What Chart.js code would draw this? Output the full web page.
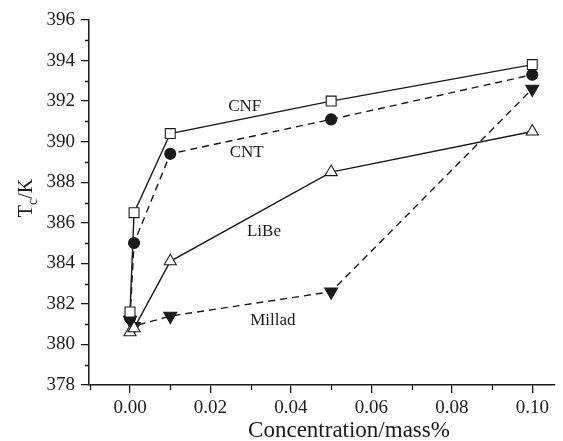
<!DOCTYPE html>
<html>
<head>
<meta charset="utf-8">
<script src="https://cdn.jsdelivr.net/npm/chart.js@4.4.0/dist/chart.umd.min.js"></script>
<style>
  html, body { margin: 0; padding: 0; background: #fff; }
  #wrap { width: 563px; height: 441px; }
</style>
</head>
<body>
<div id="wrap"><canvas id="tc-chart"></canvas></div>
<script>
  const concentrations = [0, 0.001, 0.01, 0.05, 0.1];
  const cnf = [381.6, 386.5, 390.4, 392.0, 393.8];
  const cnt = [381.3, 385.0, 389.4, 391.1, 393.3];
  const libe = [380.6, 380.8, 384.1, 388.5, 390.5];
  const millad = [381.2, 380.9, 381.4, 382.6, 392.6];

  const xTicks = [0, 0.02, 0.04, 0.06, 0.08, 0.10];
  const yTicks = [378, 380, 382, 384, 386, 388, 390, 392, 394, 396];

  const ink = '#1a1a1a';
  const serif = '"Liberation Serif", "DejaVu Serif", serif';

  function pts(ys) {
    return concentrations.map((x, i) => ({ x: x, y: ys[i] }));
  }

  // small outside ticks between the labelled ones, series names, axis titles
  const extras = {
    id: 'extras',
    afterDraw(chart) {
      const ctx = chart.ctx;
      const xs = chart.scales.x, ys = chart.scales.y;
      const area = chart.chartArea;
      ctx.save();
      ctx.strokeStyle = ink;
      ctx.lineWidth = 1.3;
      ctx.beginPath();
      for (let v = 379; v < 396; v += 2) {
        const py = Math.round(ys.getPixelForValue(v)) + 0.5;
        ctx.moveTo(area.left - 4, py);
        ctx.lineTo(area.left, py);
      }
      for (let v = -0.01; v < 0.105; v += 0.02) {
        const px = Math.round(xs.getPixelForValue(v)) + 0.5;
        ctx.moveTo(px, area.bottom);
        ctx.lineTo(px, area.bottom + 5);
      }
      ctx.stroke();

      ctx.fillStyle = ink;
      ctx.font = '17px ' + serif;
      ctx.textAlign = 'center';
      ctx.textBaseline = 'middle';
      [['CNF', 0.0285, 391.75], ['CNT', 0.029, 389.45],
       ['LiBe', 0.0333, 385.55], ['Millad', 0.0355, 381.2]].forEach(l => {
        ctx.fillText(l[0], xs.getPixelForValue(l[1]), ys.getPixelForValue(l[2]));
      });

      // x title
      ctx.font = '23px ' + serif;
      ctx.textBaseline = 'alphabetic';
      ctx.fillText('Concentration/mass%', 349, 437);

      // y title with subscript c
      ctx.translate(27, 198);
      ctx.rotate(-Math.PI / 2);
      ctx.textAlign = 'left';
      ctx.textBaseline = 'middle';
      ctx.font = '20px ' + serif;
      const wT = ctx.measureText('T').width;
      ctx.font = '14px ' + serif;
      const wc = ctx.measureText('c').width;
      ctx.font = '20px ' + serif;
      const wK = ctx.measureText('/K').width;
      const start = -(wT + wc + wK) / 2;
      ctx.fillText('T', start, 0);
      ctx.font = '14px ' + serif;
      ctx.fillText('c', start + wT, 6);
      ctx.font = '20px ' + serif;
      ctx.fillText('/K', start + wT + wc, 0);
      ctx.restore();
    }
  };

  const base = {
    borderColor: ink,
    borderWidth: 1.4,
    pointBorderColor: ink,
    pointBorderWidth: 1.1,
    tension: 0,
  };

  const data = {
    datasets: [
      Object.assign({}, base, {
        label: 'CNF', data: pts(cnf),
        pointStyle: 'rect', pointRadius: 7, pointBackgroundColor: '#fff'
      }),
      Object.assign({}, base, {
        label: 'CNT', data: pts(cnt), borderDash: [7, 5],
        pointStyle: 'circle', pointRadius: 5.5, pointBackgroundColor: ink
      }),
      Object.assign({}, base, {
        label: 'LiBe', data: pts(libe),
        pointStyle: 'triangle', pointRadius: 7, pointBackgroundColor: '#fff'
      }),
      Object.assign({}, base, {
        label: 'Millad', data: pts(millad), borderDash: [7, 5],
        pointStyle: 'triangle', pointRotation: 180, pointRadius: 7.5, pointBackgroundColor: ink
      }),
    ]
  };

  const config = {
    type: 'line',
    data: data,
    options: {
      responsive: true,
      maintainAspectRatio: false,
      animation: false,
      events: [],
      layout: { padding: { top: 20, right: 0, left: 0, bottom: 0 } },
      scales: {
        x: {
          type: 'linear',
          min: -0.0102,
          max: 0.1055,
          afterBuildTicks: s => { s.ticks = xTicks.map(v => ({ value: v })); },
          afterFit: s => { s.height = 56; },
          border: { color: ink, width: 1.5 },
          grid: { display: true, drawOnChartArea: false, tickLength: 8, color: ink, lineWidth: 1.3 },
          ticks: {
            color: ink, padding: 4,
            font: { family: serif, size: 19 },
            callback: v => v.toFixed(2)
          }
        },
        y: {
          type: 'linear',
          min: 378,
          max: 396,
          afterBuildTicks: s => { s.ticks = yTicks.map(v => ({ value: v })); },
          afterFit: s => { s.width = 89; },
          border: { color: ink, width: 1.5 },
          grid: { display: true, drawOnChartArea: false, tickLength: 8, color: ink, lineWidth: 1.3 },
          ticks: {
            color: ink, padding: 6,
            font: { family: serif, size: 19 },
            callback: v => String(v)
          }
        }
      },
      plugins: {
        legend: { display: false },
        tooltip: { enabled: false }
      }
    },
    plugins: [extras]
  };

  const tcChart = new Chart(document.getElementById('tc-chart'), config);
</script>
</body>
</html>
